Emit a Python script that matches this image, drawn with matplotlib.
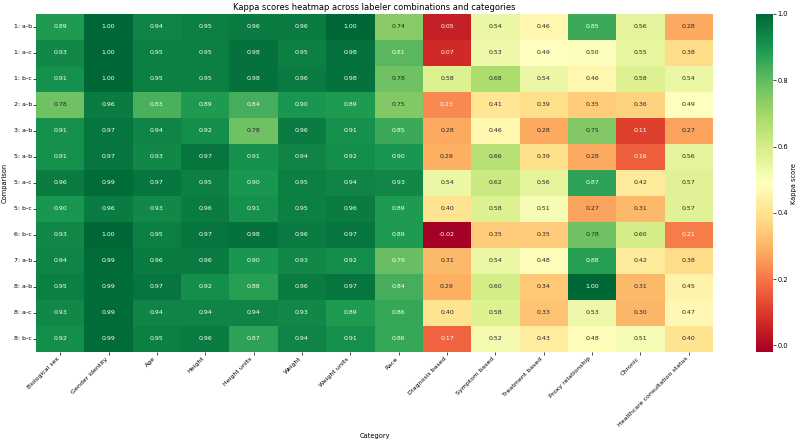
import numpy as np
import pandas as pd
import matplotlib
matplotlib.use('Agg')
import matplotlib.pyplot as plt
import seaborn as sns

comparisons = ['1: a-b', '1: a-c', '1: b-c', '2: a-b', '3: a-b', '5: a-b', '5: a-c',
               '5: b-c', '6: b-c', '7: a-b', '8: a-b', '8: a-c', '8: b-c']
categories = ['Biological sex', 'Gender identity', 'Age', 'Height', 'Height units',
              'Weight', 'Weight units', 'Race', 'Diagnosis based', 'Symptom based',
              'Treatment based', 'Proxy relationship', 'Chronic',
              'Healthcare consultation status']

kappa = [
    [0.89, 1.00, 0.94, 0.95, 0.96, 0.96, 1.00, 0.74, 0.05, 0.54, 0.46, 0.85, 0.56, 0.28],
    [0.93, 1.00, 0.95, 0.95, 0.98, 0.95, 0.98, 0.81, 0.07, 0.53, 0.49, 0.50, 0.55, 0.38],
    [0.91, 1.00, 0.95, 0.95, 0.98, 0.96, 0.98, 0.78, 0.58, 0.68, 0.54, 0.46, 0.58, 0.54],
    [0.78, 0.96, 0.83, 0.89, 0.84, 0.90, 0.89, 0.75, 0.23, 0.41, 0.39, 0.35, 0.36, 0.49],
    [0.91, 0.97, 0.94, 0.92, 0.78, 0.96, 0.91, 0.85, 0.28, 0.46, 0.28, 0.75, 0.11, 0.27],
    [0.91, 0.97, 0.93, 0.97, 0.91, 0.94, 0.92, 0.90, 0.29, 0.66, 0.39, 0.28, 0.16, 0.56],
    [0.96, 0.99, 0.97, 0.95, 0.90, 0.95, 0.94, 0.93, 0.54, 0.62, 0.56, 0.87, 0.42, 0.57],
    [0.90, 0.96, 0.93, 0.96, 0.91, 0.95, 0.96, 0.89, 0.40, 0.58, 0.51, 0.27, 0.31, 0.57],
    [0.93, 1.00, 0.95, 0.97, 0.98, 0.96, 0.97, 0.89, -0.02, 0.35, 0.35, 0.78, 0.60, 0.21],
    [0.94, 0.99, 0.96, 0.96, 0.90, 0.93, 0.92, 0.79, 0.31, 0.54, 0.48, 0.88, 0.42, 0.38],
    [0.95, 0.99, 0.97, 0.92, 0.88, 0.96, 0.97, 0.84, 0.29, 0.60, 0.34, 1.00, 0.31, 0.45],
    [0.93, 0.99, 0.94, 0.94, 0.94, 0.93, 0.89, 0.86, 0.40, 0.58, 0.33, 0.53, 0.30, 0.47],
    [0.92, 0.99, 0.95, 0.96, 0.87, 0.94, 0.91, 0.86, 0.17, 0.52, 0.43, 0.48, 0.51, 0.40],
]

df = pd.DataFrame(kappa, index=comparisons, columns=categories)

W, H = 800, 441
fig = plt.figure(figsize=(W / 100, H / 100), dpi=100)
ax = fig.add_axes([36 / W, 1 - 352 / H, (713 - 36) / W, (352 - 14) / H])
cax = fig.add_axes([756 / W, 1 - 352 / H, 17 / W, (352 - 14) / H])

sns.heatmap(df, ax=ax, cbar_ax=cax, cmap='RdYlGn', annot=True, fmt='.2f',
            annot_kws={'fontsize': 4.5},
            cbar_kws={'label': 'Kappa score'})

ax.set_title('Kappa scores heatmap across labeler combinations and categories', fontsize=6, pad=3)
ax.set_xlabel('Category', fontsize=4.8)
ax.xaxis.set_label_coords(0.5, -(433 - 352) / (352 - 14))
ax.set_ylabel('Comparison', fontsize=4.8)
ax.set_xticklabels(categories, rotation=45, ha='right', fontsize=4.5)
ax.set_yticklabels(comparisons, rotation=0, fontsize=4.5)
ax.tick_params(length=2, width=0.5, pad=1)

cax.tick_params(labelsize=4.8, length=2, width=0.5, pad=1)
cax.set_yticks([0.0, 0.2, 0.4, 0.6, 0.8, 1.0])
cax.set_ylabel('Kappa score', fontsize=4.8, labelpad=2)

fig.savefig('out.png', dpi=100)
